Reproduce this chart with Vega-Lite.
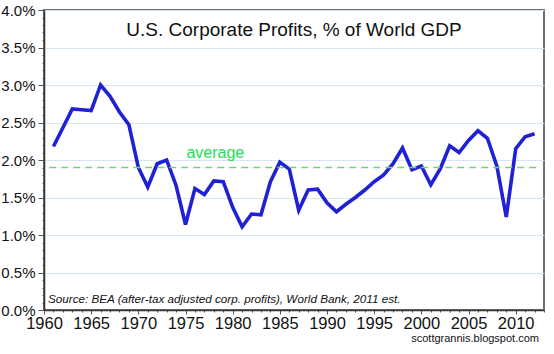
{
  "$schema": "https://vega.github.io/schema/vega-lite/v6.json",
  "autosize": "none",
  "width": 500,
  "height": 300,
  "padding": {"left": 44, "top": 10, "right": 10, "bottom": 44},
  "background": "white",
  "config": {
    "view": {"stroke": "#707070", "strokeWidth": 2},
    "font": "Liberation Sans"
  },
  "resolve": {"axis": {"x": "independent", "y": "independent"}},
  "layer": [
    {
      "data": {
        "values": [
          {"year": 1961, "pct": 2.18}, {"year": 1962, "pct": 2.43}, {"year": 1963, "pct": 2.68},
          {"year": 1964, "pct": 2.67}, {"year": 1965, "pct": 2.66}, {"year": 1966, "pct": 3.0},
          {"year": 1967, "pct": 2.85}, {"year": 1968, "pct": 2.64}, {"year": 1969, "pct": 2.47},
          {"year": 1970, "pct": 1.9}, {"year": 1971, "pct": 1.64}, {"year": 1972, "pct": 1.95},
          {"year": 1973, "pct": 2.0}, {"year": 1974, "pct": 1.66}, {"year": 1975, "pct": 1.14},
          {"year": 1976, "pct": 1.62}, {"year": 1977, "pct": 1.54}, {"year": 1978, "pct": 1.72},
          {"year": 1979, "pct": 1.71}, {"year": 1980, "pct": 1.37}, {"year": 1981, "pct": 1.11},
          {"year": 1982, "pct": 1.28}, {"year": 1983, "pct": 1.27}, {"year": 1984, "pct": 1.71},
          {"year": 1985, "pct": 1.97}, {"year": 1986, "pct": 1.88}, {"year": 1987, "pct": 1.33},
          {"year": 1988, "pct": 1.6}, {"year": 1989, "pct": 1.61}, {"year": 1990, "pct": 1.43},
          {"year": 1991, "pct": 1.31}, {"year": 1992, "pct": 1.41}, {"year": 1993, "pct": 1.5},
          {"year": 1994, "pct": 1.6}, {"year": 1995, "pct": 1.71}, {"year": 1996, "pct": 1.8},
          {"year": 1997, "pct": 1.95}, {"year": 1998, "pct": 2.16}, {"year": 1999, "pct": 1.87},
          {"year": 2000, "pct": 1.92}, {"year": 2001, "pct": 1.67}, {"year": 2002, "pct": 1.88},
          {"year": 2003, "pct": 2.19}, {"year": 2004, "pct": 2.1}, {"year": 2005, "pct": 2.26},
          {"year": 2006, "pct": 2.39}, {"year": 2007, "pct": 2.29}, {"year": 2008, "pct": 1.92},
          {"year": 2009, "pct": 1.24}, {"year": 2010, "pct": 2.15}, {"year": 2011, "pct": 2.31},
          {"year": 2012, "pct": 2.35}
        ]
      },
      "mark": {"type": "line", "color": "#2020d4", "strokeWidth": 3.6, "strokeJoin": "miter"},
      "encoding": {
        "x": {
          "field": "year", "type": "quantitative", "title": null,
          "scale": {"domain": [1960, 2013], "nice": false, "zero": false},
          "axis": {
            "values": [1960,1961,1962,1963,1964,1965,1966,1967,1968,1969,1970,1971,1972,1973,1974,1975,1976,1977,1978,1979,1980,1981,1982,1983,1984,1985,1986,1987,1988,1989,1990,1991,1992,1993,1994,1995,1996,1997,1998,1999,2000,2001,2002,2003,2004,2005,2006,2007,2008,2009,2010,2011,2012,2013],
            "labelExpr": "datum.value % 5 === 0 ? format(datum.value, 'd') : ''",
            "labelOverlap": false,
            "labelFont": "Liberation Sans",
            "labelFontSize": 16.5,
            "labelColor": "#111111",
            "labelPadding": 1,
            "labelFlush": false,
            "grid": false,
            "domainColor": "#333333",
            "domainWidth": 1.5,
            "tickColor": "#555555",
            "tickSize": {"condition": {"test": "datum.value % 5 === 0", "value": 4}, "value": 2}
          }
        },
        "y": {
          "field": "pct", "type": "quantitative", "title": null,
          "scale": {"domain": [0, 4], "nice": false},
          "axis": {
            "values": [0,0.1,0.2,0.3,0.4,0.5,0.6,0.7,0.8,0.9,1.0,1.1,1.2,1.3,1.4,1.5,1.6,1.7,1.8,1.9,2.0,2.1,2.2,2.3,2.4,2.5,2.6,2.7,2.8,2.9,3.0,3.1,3.2,3.3,3.4,3.5,3.6,3.7,3.8,3.9,4.0],
            "labelExpr": "abs(datum.value*2 - round(datum.value*2)) < 0.01 ? format(datum.value, '.1f') + '%' : ''",
            "labelOverlap": false,
            "labelFont": "Liberation Sans",
            "labelFontSize": 15,
            "labelColor": "#111111",
            "labelPadding": 3,
            "labelFlush": false,
            "grid": true,
            "gridColor": "#d6e6f2",
            "gridWidth": 1,
            "gridOpacity": {"condition": {"test": "abs(datum.value*2 - round(datum.value*2)) < 0.01", "value": 1}, "value": 0},
            "domainColor": "#333333",
            "domainWidth": 1.5,
            "tickColor": "#555555",
            "tickSize": {"condition": {"test": "abs(datum.value*2 - round(datum.value*2)) < 0.01", "value": 6}, "value": 2}
          }
        }
      }
    },
    {
      "data": {"values": [{}]},
      "mark": {"type": "rule", "color": "#78cf78", "strokeWidth": 1.7, "strokeDash": [7, 5]},
      "encoding": {
        "x": {"datum": 1960.56, "type": "quantitative", "axis": null},
        "x2": {"datum": 2012.5},
        "y": {"datum": 1.9, "type": "quantitative", "axis": null}
      }
    },
    {
      "data": {"values": [{}]},
      "mark": {"type": "text", "align": "left", "baseline": "alphabetic", "font": "Liberation Sans", "fontSize": 16, "fill": "#22dd55"},
      "encoding": {
        "x": {"datum": 1975.1, "type": "quantitative", "axis": null},
        "y": {"datum": 2.027, "type": "quantitative", "axis": null},
        "text": {"value": "average"}
      }
    },
    {
      "data": {"values": [{}]},
      "mark": {"type": "text", "align": "center", "baseline": "alphabetic", "font": "Liberation Sans", "fontSize": 19, "fill": "#111111"},
      "encoding": {
        "x": {"datum": 1986.5, "type": "quantitative", "axis": null},
        "y": {"datum": 3.653, "type": "quantitative", "axis": null},
        "text": {"value": "U.S. Corporate Profits, % of World GDP"}
      }
    },
    {
      "data": {"values": [{}]},
      "mark": {"type": "text", "align": "left", "baseline": "alphabetic", "font": "Liberation Sans", "fontSize": 11.7, "fontStyle": "italic", "fill": "#111111"},
      "encoding": {
        "x": {"datum": 1960.42, "type": "quantitative", "axis": null},
        "y": {"datum": 0.09, "type": "quantitative", "axis": null},
        "text": {"value": "Source: BEA (after-tax adjusted corp. profits), World Bank, 2011 est."}
      }
    },
    {
      "data": {"values": [{}]},
      "mark": {"type": "text", "align": "right", "baseline": "alphabetic", "font": "Liberation Sans", "fontSize": 11, "fill": "#111111"},
      "encoding": {
        "x": {"datum": 2012.47, "type": "quantitative", "axis": null},
        "y": {"datum": -0.43, "type": "quantitative", "axis": null},
        "text": {"value": "scottgrannis.blogspot.com"}
      }
    }
  ]
}
